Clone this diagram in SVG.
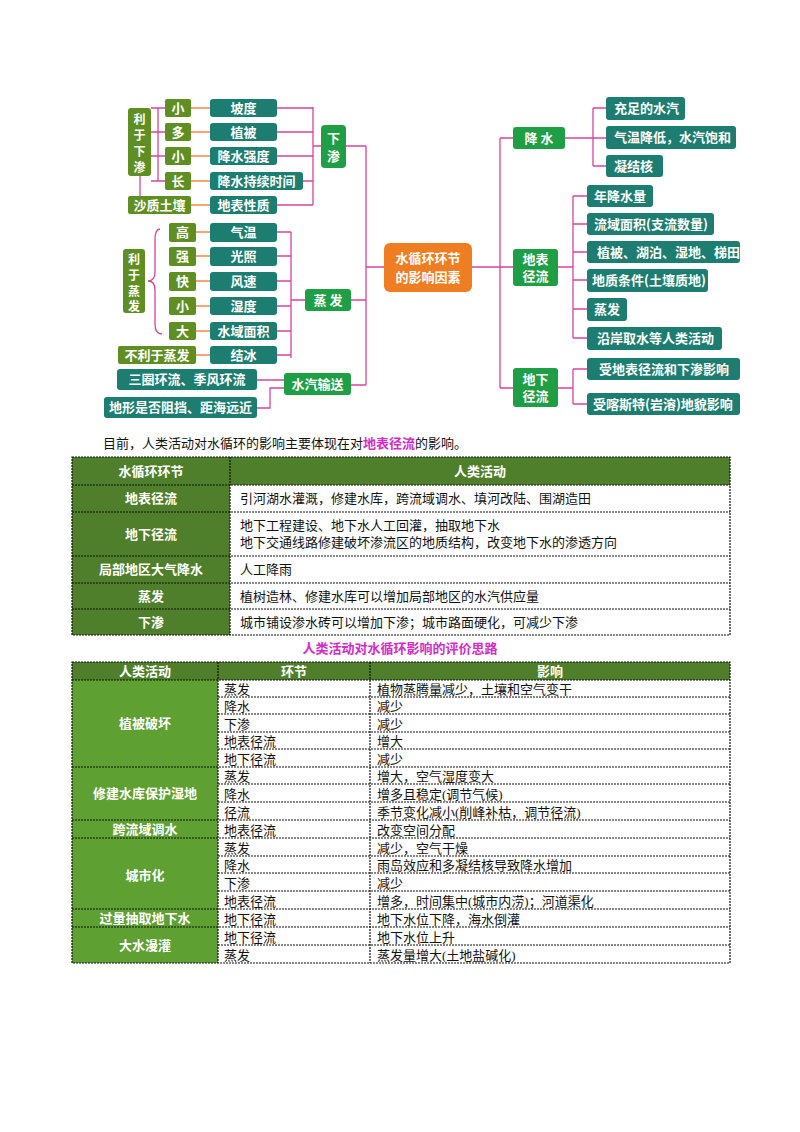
<svg xmlns="http://www.w3.org/2000/svg" width="800" height="1132" viewBox="0 0 800 1132">
<style>
.t{fill:#1c7d70}.g{fill:#1e9e45}.o{fill:#5f8f22}
.w{fill:#fff;font-family:"Noto Sans CJK SC",sans-serif;font-weight:bold;font-size:13px}
.v{font-size:12px}
.c{text-anchor:middle}
.ln{stroke:#d8449c;stroke-width:1.3;fill:none}
.lo{stroke:#f08a4b;stroke-width:1.3;fill:none}
.b{font-family:"Noto Sans CJK SC",sans-serif;font-size:13px;fill:#111}
.s{font-family:"Liberation Serif","Noto Sans CJK SC",serif;font-size:13px;fill:#111}
.hd{fill:#4f7f2a}.lc{fill:#5fa032}
.d{stroke:#111;stroke-width:1.2;stroke-dasharray:2 1;fill:none}
</style>
<rect width="800" height="1132" fill="#fff"/>
<g id="connectors">
<path class="lo" d="M191 108H210M191 132H210M191 156H210M191 181H210M191 205H210M196 232H210M196 256H210M196 281H210M196 306H210M196 331H210M196 355H210"/>
<path class="ln" d="M158 108V181M151 108H165M151 132H165M151 156H165M151 181H165M140 176V196"/>
<path class="ln" d="M277 108H313M277 132H313M277 156H313M303 181H313M277 205H313M313 107V205M313 146H321"/>
<path class="ln" d="M277 232H291M277 256H291M277 281H291M277 306H291M277 331H291M277 355H291M291 232V358M291 300H305"/>
<path class="ln" d="M160 229Q155 229 155 240V272Q155 281 148 281Q155 281 155 290V324Q155 334 162 334"/>
<path class="ln" d="M346 146H366M351 300H366M351 385H366M366 146V385M366 267H384"/>
<path class="ln" d="M257 380H284M257 408H270V388H284"/>
<path class="ln" d="M472 267H500M500 138V388M500 138H513M500 267H513M500 388H513"/>
<path class="ln" d="M565 138H593M593 108V166M593 108H606M593 138H606M593 166H606"/>
<path class="ln" d="M558 267H573M573 196V338M573 196H587M573 224H587M573 252H587M573 280H587M573 309H587M573 338H587"/>
<path class="ln" d="M558 388H573M573 369V404M573 369H587M573 404H587"/>
</g>
<g id="n-center"><rect x="384" y="243" width="88" height="49" rx="6" fill="#ef7d22"/><text class="w c" x="428" y="263" font-size="14">水循环环节</text><text class="w c" x="428" y="282" font-size="14">的影响因素</text></g>
<g id="n-xiashen"><rect class="g" x="321" y="125" width="25" height="43" rx="4"/><text class="w c" x="333.5" y="143" font-size="14">下</text><text class="w c" x="333.5" y="161" font-size="14">渗</text></g>
<g id="n-lyxs"><rect class="o" x="128" y="108" width="23" height="68" rx="3"/><text class="w v c" x="139.5" y="124">利</text><text class="w v c" x="139.5" y="140">于</text><text class="w v c" x="139.5" y="156">下</text><text class="w v c" x="139.5" y="172">渗</text></g>
<g id="n-left1">
<rect class="o" x="165" y="99" width="26" height="18" rx="2"/><text class="w c" x="178" y="113">小</text>
<rect class="o" x="165" y="123" width="26" height="18" rx="2"/><text class="w c" x="178" y="137">多</text>
<rect class="o" x="165" y="147" width="26" height="18" rx="2"/><text class="w c" x="178" y="161">小</text>
<rect class="o" x="165" y="172" width="26" height="18" rx="2"/><text class="w c" x="178" y="186">长</text>
<rect class="o" x="128" y="196" width="63" height="18" rx="2"/><text class="w c" x="159.5" y="210">沙质土壤</text>
<rect class="t" x="210" y="99" width="67" height="18" rx="3"/><text class="w c" x="243.5" y="113">坡度</text>
<rect class="t" x="210" y="123" width="67" height="18" rx="3"/><text class="w c" x="243.5" y="137">植被</text>
<rect class="t" x="210" y="147" width="67" height="18" rx="3"/><text class="w c" x="243.5" y="161">降水强度</text>
<rect class="t" x="210" y="172" width="93" height="18" rx="3"/><text class="w c" x="256.5" y="186">降水持续时间</text>
<rect class="t" x="210" y="196" width="67" height="18" rx="3"/><text class="w c" x="243.5" y="210">地表性质</text>
</g>
<g id="n-lyzf"><rect class="o" x="123" y="249" width="22" height="64" rx="3"/><text class="w v c" x="134" y="264">利</text><text class="w v c" x="134" y="280">于</text><text class="w v c" x="134" y="296">蒸</text><text class="w v c" x="134" y="311">发</text></g>
<g id="n-left2">
<rect class="o" x="169" y="223" width="27" height="19" rx="2"/><text class="w c" x="182.5" y="237">高</text>
<rect class="o" x="169" y="247" width="27" height="19" rx="2"/><text class="w c" x="182.5" y="261">强</text>
<rect class="o" x="169" y="272" width="27" height="19" rx="2"/><text class="w c" x="182.5" y="286">快</text>
<rect class="o" x="169" y="297" width="27" height="18" rx="2"/><text class="w c" x="182.5" y="311">小</text>
<rect class="o" x="169" y="322" width="27" height="18" rx="2"/><text class="w c" x="182.5" y="336">大</text>
<rect class="o" x="118" y="346" width="78" height="18" rx="2"/><text class="w c" x="157" y="360">不利于蒸发</text>
<rect class="t" x="210" y="223" width="67" height="19" rx="3"/><text class="w c" x="243.5" y="237">气温</text>
<rect class="t" x="210" y="247" width="67" height="19" rx="3"/><text class="w c" x="243.5" y="261">光照</text>
<rect class="t" x="210" y="272" width="67" height="19" rx="3"/><text class="w c" x="243.5" y="286">风速</text>
<rect class="t" x="210" y="297" width="67" height="18" rx="3"/><text class="w c" x="243.5" y="311">湿度</text>
<rect class="t" x="210" y="322" width="67" height="18" rx="3"/><text class="w c" x="243.5" y="336">水域面积</text>
<rect class="t" x="210" y="346" width="67" height="18" rx="3"/><text class="w c" x="243.5" y="360">结冰</text>
</g>
<g id="n-zhengfa"><rect class="g" x="305" y="289" width="46" height="22" rx="3"/><text class="w c" x="328" y="305" font-size="14">蒸 发</text></g>
<g id="n-shuiqi"><rect class="g" x="284" y="373" width="67" height="22" rx="3"/><text class="w c" x="317.5" y="389" font-size="14">水汽输送</text>
<rect class="t" x="117" y="369" width="140" height="21" rx="3"/><text class="w c" x="187" y="384">三圈环流、季风环流</text>
<rect class="t" x="104" y="397" width="153" height="21" rx="3"/><text class="w c" x="180.5" y="412">地形是否阻挡、距海远近</text></g>
<g id="n-jiangshui"><rect class="g" x="513" y="127" width="52" height="22" rx="3"/><text class="w c" x="539" y="143" font-size="14">降 水</text>
<rect class="t" x="606" y="97" width="79" height="23" rx="3"/><text class="w" x="614" y="113">充足的水汽</text>
<rect class="t" x="606" y="126" width="130" height="23" rx="3"/><text class="w" x="614" y="142">气温降低，水汽饱和</text>
<rect class="t" x="606" y="155" width="57" height="22" rx="3"/><text class="w" x="614" y="171">凝结核</text></g>
<g id="n-dibiao"><rect class="g" x="513" y="249" width="45" height="37" rx="3"/><text class="w c" x="535.5" y="264" font-size="14">地表</text><text class="w c" x="535.5" y="281" font-size="14">径流</text>
<rect class="t" x="587" y="185" width="66" height="22" rx="3"/><text class="w" x="594" y="201">年降水量</text>
<rect class="t" x="587" y="213" width="127" height="22" rx="3"/><text class="w" x="594" y="229">流域面积(支流数量)</text>
<rect class="t" x="587" y="241" width="153" height="22" rx="3"/><text class="w" x="597" y="257">植被、湖泊、湿地、梯田</text>
<rect class="t" x="587" y="269" width="121" height="23" rx="3"/><text class="w" x="592" y="285">地质条件(土壤质地)</text>
<rect class="t" x="587" y="298" width="40" height="23" rx="3"/><text class="w" x="594" y="314">蒸发</text>
<rect class="t" x="587" y="327" width="135" height="23" rx="3"/><text class="w" x="597" y="343">沿岸取水等人类活动</text></g>
<g id="n-dixia"><rect class="g" x="513" y="368" width="45" height="39" rx="3"/><text class="w c" x="535.5" y="384" font-size="14">地下</text><text class="w c" x="535.5" y="401" font-size="14">径流</text>
<rect class="t" x="587" y="358" width="153" height="22" rx="3"/><text class="w" x="599" y="374">受地表径流和下渗影响</text>
<rect class="t" x="587" y="393" width="153" height="22" rx="3"/><text class="w" x="593" y="409">受喀斯特(岩溶)地貌影响</text></g>
<text class="b" x="103" y="448">目前，人类活动对水循环的影响主要体现在对<tspan fill="#d42cc8" font-weight="bold">地表径流</tspan>的影响。</text>
<g id="table1">
<rect class="hd" x="72" y="457" width="658" height="28"/>
<rect class="hd" x="72" y="485" width="158" height="150"/>
<path class="d" d="M72 457H730V635H72ZM230 457V635M72 485H730M72 512H730M72 556H730M72 583H730M72 609H730"/>
<g class="w c"><text x="151" y="476">水循环环节</text><text x="480" y="476">人类活动</text><text x="151" y="503">地表径流</text><text x="151" y="539">地下径流</text><text x="151" y="574">局部地区大气降水</text><text x="151" y="601">蒸发</text><text x="151" y="627">下渗</text></g>
<g class="b"><text x="240" y="503">引河湖水灌溉，修建水库，跨流域调水、填河改陆、围湖造田</text><text x="240" y="530">地下工程建设、地下水人工回灌，抽取地下水</text><text x="240" y="547">地下交通线路修建破坏渗流区的地质结构，改变地下水的渗透方向</text><text x="240" y="574">人工降雨</text><text x="240" y="601">植树造林、修建水库可以增加局部地区的水汽供应量</text><text x="240" y="627">城市铺设渗水砖可以增加下渗；城市路面硬化，可减少下渗</text></g>
</g>
<text x="400" y="653" text-anchor="middle" font-family="Noto Sans CJK SC,sans-serif" font-size="13" font-weight="bold" fill="#d42cc8">人类活动对水循环影响的评价思路</text>
<g id="table2">
<rect class="hd" x="72" y="662" width="658" height="18"/>
<rect class="lc" x="72" y="680" width="146" height="283"/>
<path class="d" d="M72 662H730V963H72ZM218 662V963M370 662V963M72 680H730M218 697H730M218 714H730M218 732H730M218 749H730M72 767H730M218 784H730M218 802H730M72 820H730M72 838H730M218 856H730M218 873H730M218 891H730M72 909H730M72 927H730M218 945H730"/>
<g class="w c"><text x="145" y="676">人类活动</text><text x="294" y="676">环节</text><text x="550" y="676">影响</text><text x="145" y="728">植被破坏</text><text x="145" y="798">修建水库保护湿地</text><text x="145" y="834">跨流域调水</text><text x="145" y="880">城市化</text><text x="145" y="923">过量抽取地下水</text><text x="145" y="950">大水漫灌</text></g>
<g class="s"><text x="224" y="694">蒸发</text><text x="224" y="711">降水</text><text x="224" y="729">下渗</text><text x="224" y="746">地表径流</text><text x="224" y="764">地下径流</text><text x="224" y="781">蒸发</text><text x="224" y="799">降水</text><text x="224" y="817">径流</text><text x="224" y="835">地表径流</text><text x="224" y="853">蒸发</text><text x="224" y="870">降水</text><text x="224" y="888">下渗</text><text x="224" y="906">地表径流</text><text x="224" y="924">地下径流</text><text x="224" y="942">地下径流</text><text x="224" y="960">蒸发</text>
<text x="377" y="694">植物蒸腾量减少，土壤和空气变干</text><text x="377" y="711">减少</text><text x="377" y="729">减少</text><text x="377" y="746">增大</text><text x="377" y="764">减少</text><text x="377" y="781">增大，空气湿度变大</text><text x="377" y="799">增多且稳定(调节气候)</text><text x="377" y="817">季节变化减小(削峰补枯，调节径流)</text><text x="377" y="835">改变空间分配</text><text x="377" y="853">减少，空气干燥</text><text x="377" y="870">雨岛效应和多凝结核导致降水增加</text><text x="377" y="888">减少</text><text x="377" y="906">增多，时间集中(城市内涝)；河道渠化</text><text x="377" y="924">地下水位下降，海水倒灌</text><text x="377" y="942">地下水位上升</text><text x="377" y="960">蒸发量增大(土地盐碱化)</text></g>
</g>
</svg>
